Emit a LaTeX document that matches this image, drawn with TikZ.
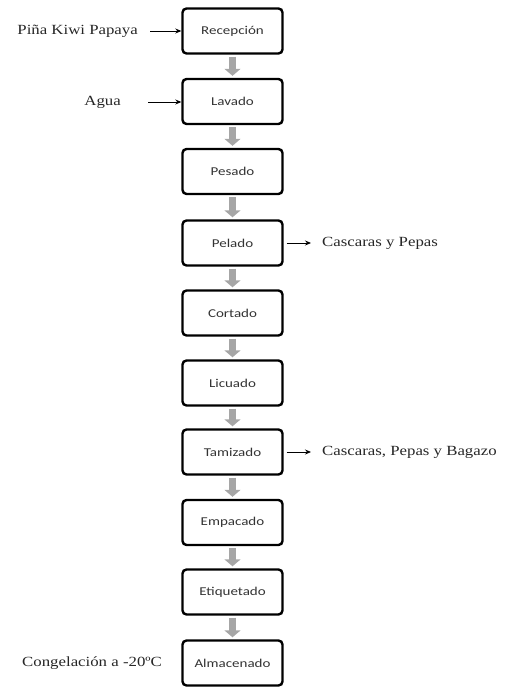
\documentclass[tikz,border=0pt]{standalone}
\usepackage{fontspec}
\setmainfont{Liberation Serif}
\newfontfamily\boxfont{Carlito}
\newfontfamily\labfont{Liberation Serif}
\usetikzlibrary{arrows.meta}
\begin{document}
\begin{tikzpicture}[x=1pt,y=-1pt,
  stepbox/.style={draw=black,line width=2.4pt,rounded corners=4pt,minimum width=100pt,minimum height=45pt,inner sep=0pt,font=\boxfont\fontsize{12}{14}\selectfont,text=black!80},
  flow/.style={draw=black!35,line width=7pt,-{Triangle[width=16pt,length=7pt]},shorten <=2pt,shorten >=2pt},
  side/.style={draw=black,line width=0.8pt,-{Stealth[length=6pt,width=5pt]}},
  lab/.style={font=\labfont\fontsize{14}{16}\selectfont,inner sep=0pt,text=black!85}]
\useasboundingbox (0,0) rectangle (504,692);
\node[stepbox] (b1) at (232.5,31) {\scalebox{1.25}[1]{Recepción}};
\node[stepbox] (b2) at (232.5,101.5) {\scalebox{1.25}[1]{Lavado}};
\node[stepbox] (b3) at (232.5,171.5) {\scalebox{1.25}[1]{Pesado}};
\node[stepbox] (b4) at (232.5,243) {\scalebox{1.25}[1]{Pelado}};
\node[stepbox] (b5) at (232.5,313) {\scalebox{1.25}[1]{Cortado}};
\node[stepbox] (b6) at (232.5,383) {\scalebox{1.25}[1]{Licuado}};
\node[stepbox] (b7) at (232.5,452) {\scalebox{1.25}[1]{Tamizado}};
\node[stepbox] (b8) at (232.5,522.5) {\scalebox{1.25}[1]{Empacado}};
\node[stepbox] (b9) at (232.5,592) {\scalebox{1.25}[1]{Etiquetado}};
\node[stepbox] (b10) at (232.5,663) {\scalebox{1.25}[1]{Almacenado}};
\foreach \a/\b in {b1/b2,b2/b3,b3/b4,b4/b5,b5/b6,b6/b7,b7/b8,b8/b9,b9/b10}
  \draw[flow] (\a.south) -- (\b.north);
\node[lab,anchor=east] (l1) at (138,31) {\scalebox{1.2}[1]{\labfont Piña Kiwi Papaya}};
\node[lab,anchor=east] (l2) at (121,102) {\scalebox{1.2}[1]{\labfont Agua}};
\node[lab,anchor=west] (r1) at (322,243) {\scalebox{1.2}[1]{\labfont Cascaras y Pepas}};
\node[lab,anchor=west] (r2) at (322,452) {\scalebox{1.2}[1]{\labfont Cascaras, Pepas y Bagazo}};
\node[lab,anchor=east] (l3) at (162,663) {\scalebox{1.2}[1]{\labfont Congelación a -20ºC}};
\coordinate (s1) at (150,31);
\coordinate (s2) at (148,102);
\coordinate (e1) at (311,243);
\coordinate (e2) at (311,452);
\draw[side] (s1) -- (b1.west);
\draw[side] (s2) -- (b2.west |- s2);
\draw[side] (b4.east) ++(3,0) -- (e1);
\draw[side] (b7.east) ++(3,0) -- (e2);
\end{tikzpicture}
\end{document}
